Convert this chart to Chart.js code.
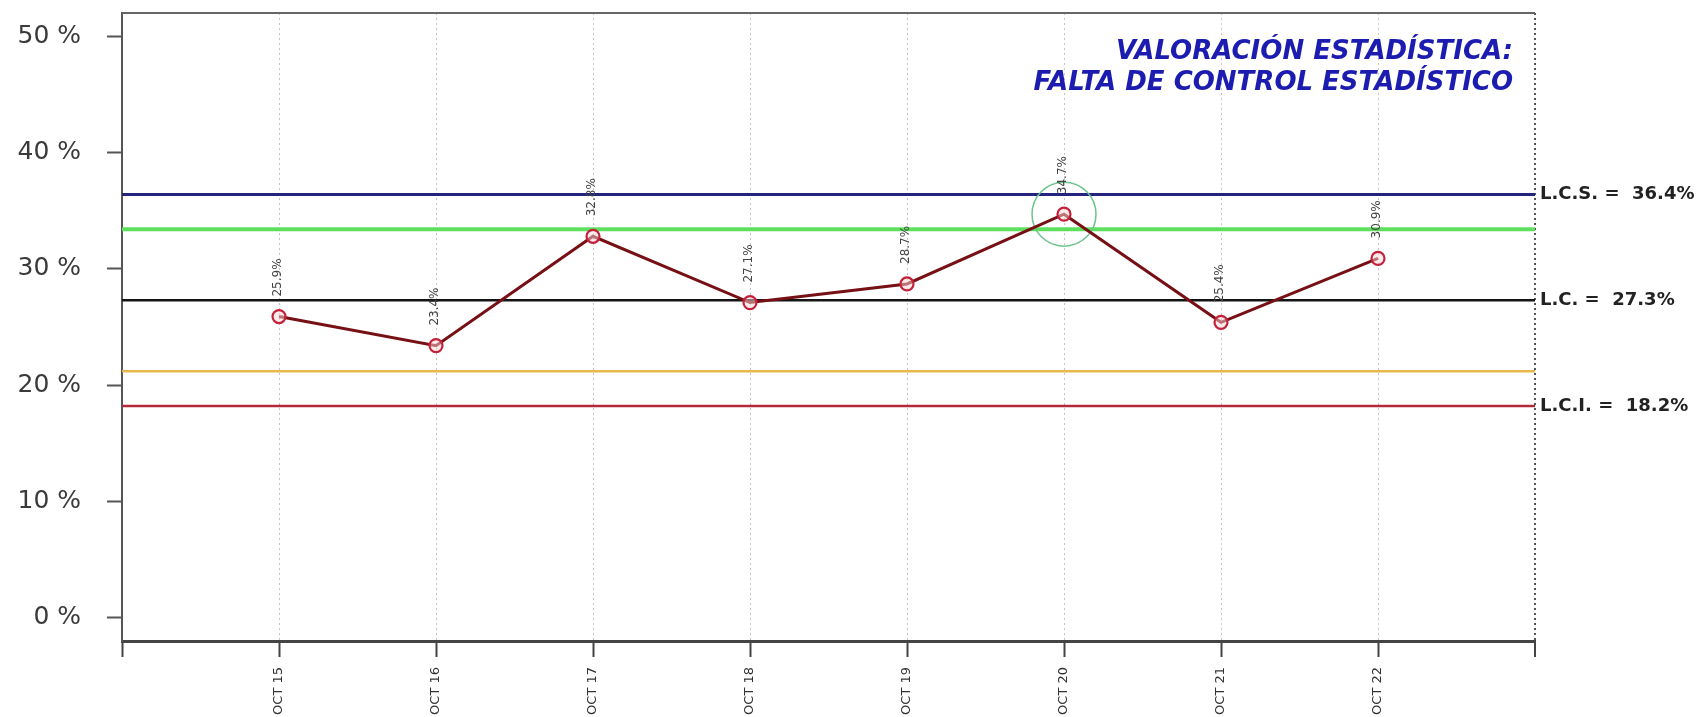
<!DOCTYPE html>
<html><head><meta charset="utf-8">
<script src="https://cdn.jsdelivr.net/npm/chart.js@4.4.0/dist/chart.umd.min.js"></script>
<style>html,body{margin:0;padding:0;background:#fff;}#wrap{width:1697px;height:717px;}</style>
</head><body><div id="wrap"><canvas id="c" width="1697" height="717"></canvas></div>
<script>
const categories = ['OCT 15','OCT 16','OCT 17','OCT 18','OCT 19','OCT 20','OCT 21','OCT 22'];
const proportions = [25.9, 23.4, 32.8, 27.1, 28.7, 34.7, 25.4, 30.9];
const flaggedCategories = ['OCT 20'];
const limitUpper = 36.4;
const limitCenter = 27.3;
const limitLower = 18.2;
const warnUpper = 33.4;
const warnLower = 21.2;
const yTickValues = [0, 10, 20, 30, 40, 50];
const titleLines = ['VALORACIÓN ESTADÍSTICA:', 'FALTA DE CONTROL ESTADÍSTICO'];
const limitLabels = [
  {text: 'L.C.S. =  ' + limitUpper.toFixed(1) + '%', value: limitUpper},
  {text: 'L.C. =  ' + limitCenter.toFixed(1) + '%', value: limitCenter},
  {text: 'L.C.I. =  ' + limitLower.toFixed(1) + '%', value: limitLower}
];

const xMax = categories.length + 1;
const seriesPoints = proportions.map((v, i) => ({x: i + 1, y: v}));
const flaggedPoints = flaggedCategories.map(c => {
  const i = categories.indexOf(c);
  return {x: i + 1, y: proportions[i]};
});
function hLine(v) { return [{x: 0, y: v}, {x: xMax, y: v}]; }
function limitDataset(v, color, width) {
  return {data: hLine(v), borderColor: color, borderWidth: width, pointRadius: 0, fill: false, tension: 0};
}
function noPad(s) { s.paddingTop = 0; s.paddingBottom = 0; s.paddingLeft = 0; s.paddingRight = 0; }

const framePlugin = {
  id: 'frame',
  beforeDatasetsDraw(chart) {
    const {ctx, chartArea} = chart;
    ctx.save();
    ctx.strokeStyle = '#666';
    ctx.lineWidth = 2;
    ctx.beginPath();
    ctx.moveTo(chartArea.left, chartArea.top);
    ctx.lineTo(chartArea.right, chartArea.top);
    ctx.stroke();
    ctx.restore();
  }
};

const labelsPlugin = {
  id: 'labels',
  afterDatasetsDraw(chart) {
    const {ctx, chartArea} = chart;
    const y = chart.scales.y;
    ctx.save();
    ctx.font = 'bold 18px "DejaVu Sans"';
    ctx.fillStyle = '#222';
    ctx.textAlign = 'left';
    ctx.textBaseline = 'middle';
    limitLabels.forEach(l => {
      ctx.fillText(l.text, chartArea.right + 5, y.getPixelForValue(l.value));
    });
    const meta = chart.getDatasetMeta(0);
    ctx.font = '12px "DejaVu Sans"';
    ctx.fillStyle = '#444';
    meta.data.forEach((pt, i) => {
      ctx.save();
      ctx.translate(pt.x - 1, pt.y - 20);
      ctx.rotate(-Math.PI / 2);
      ctx.textAlign = 'left';
      ctx.textBaseline = 'middle';
      ctx.fillText(proportions[i].toFixed(1) + '%', 0, 0);
      ctx.restore();
    });
    ctx.font = 'italic bold 26px "DejaVu Sans"';
    ctx.fillStyle = '#1c1cb0';
    ctx.textAlign = 'right';
    ctx.textBaseline = 'alphabetic';
    titleLines.forEach((t, i) => {
      ctx.fillText(t, chartArea.right - 22, chartArea.top + 46 + i * 31);
    });
    ctx.restore();
  }
};

new Chart(document.getElementById('c'), {
  type: 'line',
  data: {
    datasets: [
      {
        data: seriesPoints,
        borderColor: '#761014',
        borderWidth: 3,
        pointRadius: 6.5,
        pointBorderWidth: 2.2,
        pointBorderColor: '#c4203a',
        pointBackgroundColor: 'rgba(255,215,215,0.5)',
        tension: 0,
        fill: false
      },
      {
        data: flaggedPoints,
        showLine: false,
        pointRadius: 32,
        pointBorderWidth: 1.5,
        pointBorderColor: '#6cc48c',
        pointBackgroundColor: 'rgba(0,0,0,0)'
      },
      limitDataset(limitUpper, '#24247f', 3),
      limitDataset(warnUpper, '#5ee05e', 4),
      limitDataset(limitCenter, '#141414', 2.5),
      limitDataset(warnLower, '#e8b84c', 2.5),
      limitDataset(limitLower, '#b22a3a', 2.5)
    ]
  },
  options: {
    responsive: false,
    devicePixelRatio: 1,
    animation: false,
    layout: {autoPadding: false, padding: {top: 13, right: 162, left: 0, bottom: 0}},
    plugins: {legend: {display: false}, tooltip: {enabled: false}, title: {display: false}},
    scales: {
      x: {
        type: 'linear',
        min: 0,
        max: xMax,
        afterBuildTicks: s => { s.ticks = Array.from({length: xMax + 1}, (_, i) => ({value: i})); },
        afterFit: s => { s.height = 76; noPad(s); },
        ticks: {
          autoSkip: false,
          minRotation: 90,
          maxRotation: 90,
          padding: 10,
          color: '#333',
          font: {family: 'DejaVu Sans', size: 13},
          callback: v => categories[v - 1] || ''
        },
        grid: {
          color: c => c.tick && c.tick.value === 0 ? 'rgba(0,0,0,0)' : (c.tick && c.tick.value === xMax ? '#555' : '#c4c4c4'),
          lineWidth: c => c.tick && c.tick.value === xMax ? 2 : 1,
          tickColor: '#444',
          tickWidth: 2,
          tickLength: 16
        },
        border: {display: true, color: '#444', width: 3, dash: [2, 3]}
      },
      y: {
        min: -2,
        max: 52,
        afterBuildTicks: s => { s.ticks = yTickValues.map(v => ({value: v})); },
        afterFit: s => { s.width = 122; noPad(s); },
        ticks: {
          padding: 26,
          color: '#3a3a3a',
          font: {family: 'DejaVu Sans', size: 25},
          callback: v => v + ' %'
        },
        grid: {
          drawOnChartArea: false,
          tickColor: '#555',
          tickWidth: 2,
          tickLength: 15
        },
        border: {display: true, color: '#555', width: 2}
      }
    }
  },
  plugins: [framePlugin, labelsPlugin]
});
</script>
</body></html>
